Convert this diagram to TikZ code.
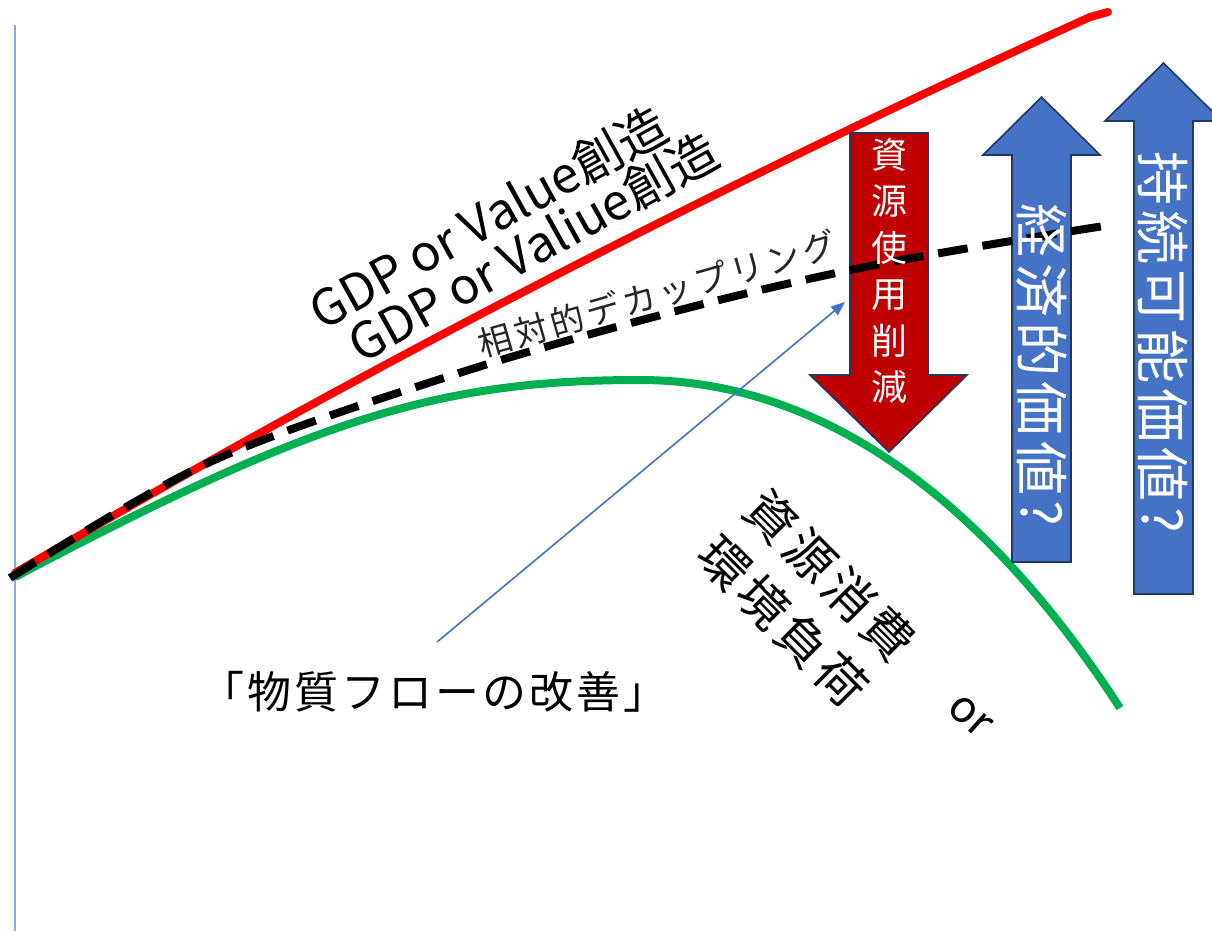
\documentclass[tikz,border=0pt]{standalone}
\usepackage{fontspec}
\setmainfont{Noto Sans CJK JP}
\usetikzlibrary{arrows.meta}
\definecolor{axisblue}{HTML}{8FAADC}
\definecolor{gdpred}{HTML}{FF0000}
\definecolor{loadgreen}{HTML}{00B050}
\definecolor{shapeblue}{HTML}{4472C4}
\definecolor{shapered}{HTML}{C00000}
\definecolor{shapeline}{HTML}{203864}
\definecolor{pointerblue}{HTML}{4472C4}
\definecolor{darktext}{HTML}{262626}
\newcommand{\fsz}[2]{\fontsize{#1}{#2}\selectfont}
\newcommand{\lsp}[1]{\addfontfeatures{LetterSpace=#1}}
\begin{document}
\begin{tikzpicture}[x=1pt,y=-1pt,
  curveline/.style={line width=8pt,line join=round},
  bigarrow/.style={draw=shapeline,line width=1.6pt,line join=miter},
  lbl/.style={inner sep=0pt,outer sep=0pt},
  pointer/.style={draw=pointerblue,line width=1.6pt,-{Triangle[length=14pt,width=11pt]}}]
\useasboundingbox (0,0) rectangle (1212,931);
\clip (0,0) rectangle (1212,931);
% axis
\coordinate (axtop) at (15,25);
\coordinate (axbot) at (15,931);
\draw[axisblue,line width=2.5pt] (axtop) -- (axbot);
% green curve
\draw[curveline,loadgreen] (15,577) .. controls (315,418) and (440,380) .. (640,380)
  .. controls (840,380) and (1000,523) .. (1120,708);
% red curve
\draw[curveline,gdpred,line cap=round] (15,573) .. controls (378,359) and (742,175) .. (1090,17) -- (1108,12);
% red down arrow
\draw[bigarrow,fill=shapered] (850,133) -- (928,133) -- (928,375) -- (967,375) -- (889,452) -- (810,375) -- (850,375) -- cycle;
% blue up arrows
\draw[bigarrow,fill=shapeblue] (1012,562) -- (1071,562) -- (1071,155) -- (1100,155) -- (1041.5,97) -- (983,155) -- (1012,155) -- cycle;
\draw[bigarrow,fill=shapeblue] (1134,594) -- (1193,594) -- (1193,121) -- (1222,121) -- (1163.5,63) -- (1105,121) -- (1134,121) -- cycle;
% dashed curve (drawn over the arrows)
\draw[curveline,black,dash pattern=on 30pt off 15pt] plot[smooth,tension=0.55] coordinates {(10,578) (210,462) (453,375) (680,310) (880,264) (1110,225)};
% arrow texts
\node[lbl,text=white,align=center,font=\fsz{36}{46.5}] (cut) at (889,271) {資\\源\\使\\用\\削\\減};
\node[lbl,text=white,rotate=-90,font=\fsz{54}{60}\lsp{10}] (econ) at (1041.5,365) {経済的価値?};
\node[lbl,text=white,rotate=-90,font=\fsz{54}{60}\lsp{10}] (sust) at (1163.5,342) {持続可能価値?};
% labels
\node[lbl,anchor=base west,rotate=29,font=\fsz{50}{55}] (gdp1) at (322,331) {GDP or Value創造};
\node[lbl,anchor=base west,rotate=29,font=\fsz{50}{55}] (gdp2) at (361,364) {GDP or Valiue創造};
\node[lbl,text=darktext,rotate=16,font=\fsz{34}{40}\lsp{10}] (decoup) at (657,294) {相対的デカップリング};
\node[lbl,rotate=-45,font=\fsz{50}{60}\lsp{10}] (res1) at (830,575) {資源消費};
\node[lbl,rotate=-45,font=\fsz{50}{60}\lsp{10}] (res2) at (783,621) {環境負荷};
\node[lbl,rotate=-42,font=\fsz{44}{50}] (orword) at (970,716) {or};
\node[lbl,font=\fsz{44}{50}\lsp{7}] (flow) at (434,692) {「物質フローの改善」};
% pointer
\coordinate (pstart) at (437,642);
\coordinate (pend) at (845,302);
\draw[pointer] (pstart) -- (pend);
\end{tikzpicture}
\end{document}
